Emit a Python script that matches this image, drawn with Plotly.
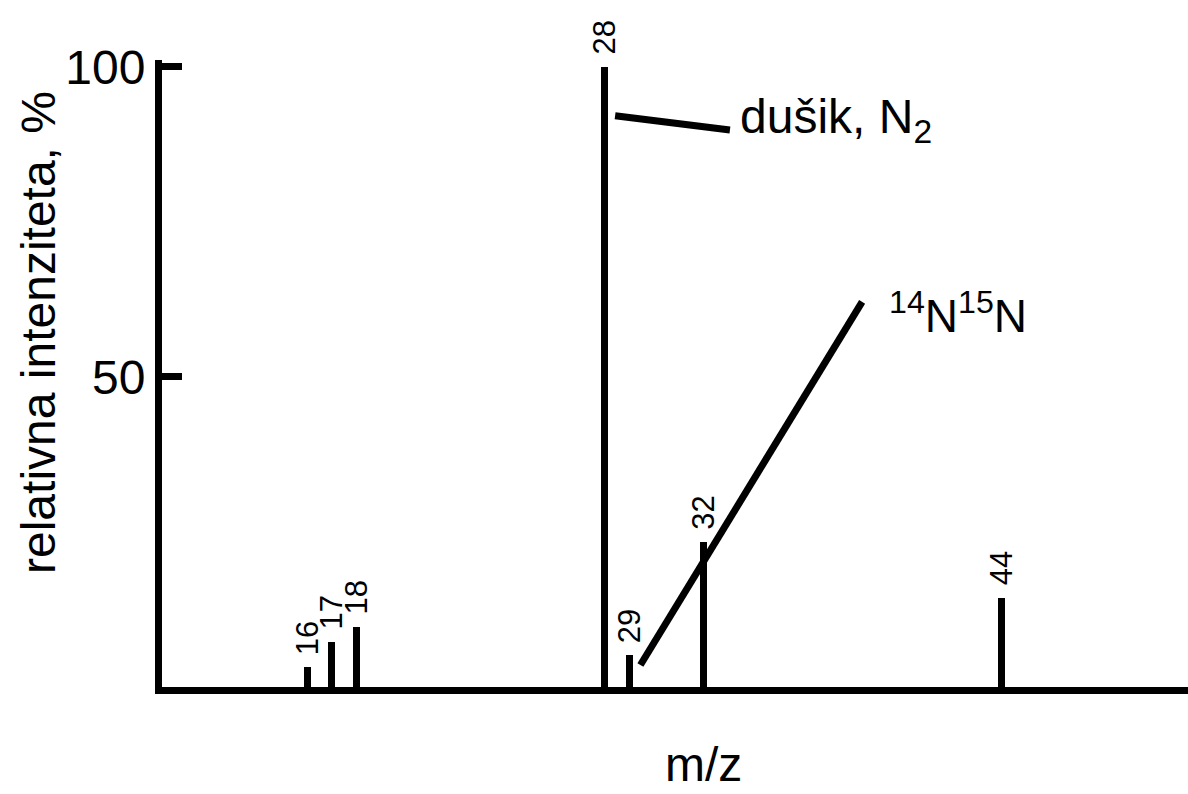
import plotly.graph_objects as go

# ---- data ----
mz = [16, 17, 18, 28, 29, 32, 44]
intensity = [3.2, 7.3, 9.7, 100, 5.2, 23.4, 14.4]
peak_labels = ["16", "17", "18", "28", "29", "32", "44"]
ytick_vals = [50, 100]
ytick_text = ["50", "100"]

FONT = "Liberation Sans, Arial, sans-serif"

fig = go.Figure()
fig.add_trace(go.Bar(
    x=mz, y=intensity, width=0.28,
    marker=dict(color="black", line=dict(width=0)),
    hoverinfo="x+y", showlegend=False,
))

# peak labels
for xm, yv, lab in zip(mz, intensity, peak_labels):
    fig.add_annotation(x=xm, y=yv, text=lab, textangle=-90, showarrow=False,
                       xanchor="center", yanchor="bottom", yshift=10,
                       font=dict(family=FONT, size=31, color="black"))

# annotation lines
fig.add_shape(type="line", x0=28.42, y0=92.1, x1=33.05, y1=89.8,
              line=dict(color="black", width=7))
fig.add_shape(type="line", x0=29.44, y0=3.55, x1=38.38, y1=62.1,
              line=dict(color="black", width=7))

fig.add_annotation(x=33.38, y=91.5, text="dušik, N<sub>2</sub>", showarrow=False,
                   xanchor="left", yanchor="middle",
                   font=dict(family=FONT, size=48, color="black"))
fig.add_annotation(x=39.38, y=60.3, text="<sup>14</sup>N<sup>15</sup>N", showarrow=False,
                   xanchor="left", yanchor="middle",
                   font=dict(family=FONT, size=46, color="black"))

# axis titles
fig.add_annotation(xref="paper", yref="paper", x=-0.121, y=0.566,
                   text="relativna intenziteta, %", textangle=-90, showarrow=False,
                   xanchor="center", yanchor="middle",
                   font=dict(family=FONT, size=48, color="black"))
fig.add_annotation(xref="paper", yref="paper", x=0.528, y=-0.169,
                   text="m/z", showarrow=False,
                   xanchor="center", yanchor="bottom",
                   font=dict(family=FONT, size=48, color="black"))

fig.update_layout(
    width=1188, height=794,
    margin=dict(l=162, r=0, t=60, b=107),
    paper_bgcolor="white", plot_bgcolor="white",
    font=dict(family=FONT, color="black"),
    bargap=0,
    xaxis=dict(range=[10.15, 51.52], showline=True, linecolor="black", linewidth=7,
               showticklabels=False, ticks="", showgrid=False, zeroline=False,
               fixedrange=True),
    yaxis=dict(range=[0, 101.1], showline=True, linecolor="black", linewidth=7,
               tickvals=ytick_vals, ticktext=ytick_text, ticks="inside",
               ticklen=20, tickwidth=7, tickcolor="black",
               tickfont=dict(family=FONT, size=48, color="black"),
               showgrid=False, zeroline=False, fixedrange=True),
)

fig.write_html("out.html", config={"displayModeBar": False},
               post_script="document.body.style.margin='0';document.body.style.overflow='hidden';")
